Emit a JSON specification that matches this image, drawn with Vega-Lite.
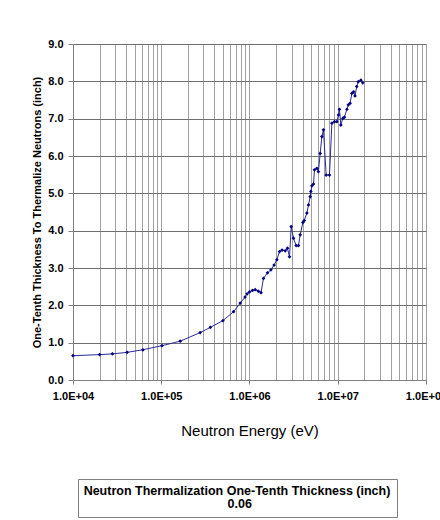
{
  "$schema": "https://vega.github.io/schema/vega-lite/v6.json",
  "width": 353,
  "height": 336,
  "autosize": "none",
  "padding": {"left": 73, "top": 44, "right": 14, "bottom": 140},
  "background": "white",
  "config": {"font": "Liberation Sans", "view": {"stroke": null}},
  "data": {"values": [
    {"energy": 10000, "thickness": 0.65},
    {"energy": 20000, "thickness": 0.68},
    {"energy": 28000, "thickness": 0.70},
    {"energy": 41000, "thickness": 0.74},
    {"energy": 62000, "thickness": 0.81},
    {"energy": 102000, "thickness": 0.92},
    {"energy": 164000, "thickness": 1.04},
    {"energy": 276000, "thickness": 1.27},
    {"energy": 360000, "thickness": 1.41},
    {"energy": 500000, "thickness": 1.59},
    {"energy": 660000, "thickness": 1.83},
    {"energy": 785000, "thickness": 2.06},
    {"energy": 890000, "thickness": 2.22},
    {"energy": 940000, "thickness": 2.31},
    {"energy": 1000000, "thickness": 2.36},
    {"energy": 1080000, "thickness": 2.40},
    {"energy": 1160000, "thickness": 2.42},
    {"energy": 1260000, "thickness": 2.38},
    {"energy": 1350000, "thickness": 2.34},
    {"energy": 1440000, "thickness": 2.72},
    {"energy": 1600000, "thickness": 2.87},
    {"energy": 1750000, "thickness": 2.95},
    {"energy": 1900000, "thickness": 3.08},
    {"energy": 2040000, "thickness": 3.22},
    {"energy": 2190000, "thickness": 3.44},
    {"energy": 2340000, "thickness": 3.48},
    {"energy": 2540000, "thickness": 3.46},
    {"energy": 2690000, "thickness": 3.53},
    {"energy": 2840000, "thickness": 3.30},
    {"energy": 2970000, "thickness": 4.11},
    {"energy": 3150000, "thickness": 3.80},
    {"energy": 3380000, "thickness": 3.60},
    {"energy": 3590000, "thickness": 3.60},
    {"energy": 3750000, "thickness": 3.89},
    {"energy": 4030000, "thickness": 4.22},
    {"energy": 4170000, "thickness": 4.27},
    {"energy": 4470000, "thickness": 4.47},
    {"energy": 4660000, "thickness": 4.69},
    {"energy": 4870000, "thickness": 4.91},
    {"energy": 4960000, "thickness": 5.05},
    {"energy": 5090000, "thickness": 5.20},
    {"energy": 5310000, "thickness": 5.25},
    {"energy": 5450000, "thickness": 5.63},
    {"energy": 5800000, "thickness": 5.67},
    {"energy": 6040000, "thickness": 5.58},
    {"energy": 6320000, "thickness": 6.07},
    {"energy": 6610000, "thickness": 6.52},
    {"energy": 6890000, "thickness": 6.70},
    {"energy": 7390000, "thickness": 5.49},
    {"energy": 8060000, "thickness": 5.49},
    {"energy": 8580000, "thickness": 6.88},
    {"energy": 9180000, "thickness": 6.92},
    {"energy": 9770000, "thickness": 6.92},
    {"energy": 10200000, "thickness": 7.10},
    {"energy": 10450000, "thickness": 7.25},
    {"energy": 10840000, "thickness": 6.83},
    {"energy": 11420000, "thickness": 7.01},
    {"energy": 11900000, "thickness": 7.04},
    {"energy": 12700000, "thickness": 7.25},
    {"energy": 13200000, "thickness": 7.37},
    {"energy": 13800000, "thickness": 7.41},
    {"energy": 14450000, "thickness": 7.68},
    {"energy": 15100000, "thickness": 7.72},
    {"energy": 15700000, "thickness": 7.61},
    {"energy": 16400000, "thickness": 7.86},
    {"energy": 17100000, "thickness": 7.99},
    {"energy": 18300000, "thickness": 8.03},
    {"energy": 19200000, "thickness": 7.96}
  ]},
  "encoding": {
    "x": {
      "field": "energy",
      "type": "quantitative",
      "scale": {"type": "log", "domain": [10000, 100000000]},
      "axis": {
        "title": "Neutron Energy (eV)",
        "values": [10000, 20000, 30000, 40000, 50000, 60000, 70000, 80000, 90000,
                   100000, 200000, 300000, 400000, 500000, 600000, 700000, 800000, 900000,
                   1000000, 2000000, 3000000, 4000000, 5000000, 6000000, 7000000, 8000000, 9000000,
                   10000000, 20000000, 30000000, 40000000, 50000000, 60000000, 70000000, 80000000, 90000000,
                   100000000],
        "labelExpr": "abs(log(datum.value)/LN10 - round(log(datum.value)/LN10)) < 0.001 ? '1.0E+0' + round(log(datum.value)/LN10) : ''",
        "labelOverlap": false,
        "labelFlush": false,
        "labelBound": false,
        "labelFont": "Liberation Sans",
        "labelFontSize": 11,
        "labelFontWeight": "bold",
        "labelColor": "#000000",
        "labelPadding": 6,
        "grid": true,
        "gridColor": "#a0a0a0",
        "gridWidth": 1,
        "tickSize": 4,
        "tickColor": {"condition": {"test": "abs(log(datum.value)/LN10 - round(log(datum.value)/LN10)) < 0.001", "value": "#808080"}, "value": "transparent"},
        "domainColor": "#808080",
        "titleFont": "Liberation Sans",
        "titleFontSize": 15,
        "titleFontWeight": "normal",
        "titleColor": "#000000",
        "titlePadding": 22
      }
    },
    "y": {
      "field": "thickness",
      "type": "quantitative",
      "scale": {"domain": [0, 9]},
      "axis": {
        "title": "One-Tenth Thickness To Thermalize Neutrons (inch)",
        "values": [0, 1, 2, 3, 4, 5, 6, 7, 8, 9],
        "format": ".1f",
        "labelFlush": false,
        "labelFont": "Liberation Sans",
        "labelFontSize": 11,
        "labelFontWeight": "bold",
        "labelColor": "#000000",
        "labelPadding": 5,
        "grid": true,
        "gridColor": "#707070",
        "tickSize": 5,
        "tickColor": "#808080",
        "domainColor": "#808080",
        "titleFont": "Liberation Sans",
        "titleFontSize": 11,
        "titleFontWeight": "bold",
        "titleColor": "#000000",
        "titlePadding": 5
      }
    }
  },
  "layer": [
    {"mark": {"type": "line", "color": "#2a2a9a", "strokeWidth": 1}},
    {
      "mark": {"type": "point", "shape": "diamond", "filled": true, "size": 14, "opacity": 1},
      "encoding": {
        "color": {
          "datum": "0.06",
          "scale": {"range": ["#000080"]},
          "legend": {
            "title": "Neutron Thermalization One-Tenth Thickness (inch)",
            "orient": "none",
            "legendX": 5,
            "legendY": 435,
            "titleFont": "Liberation Sans",
            "titleFontSize": 12.5,
            "titleFontWeight": "bold",
            "titleColor": "#000000",
            "titleAnchor": "middle",
            "titleAlign": "center",
            "titleLimit": 400,
            "titlePadding": 0,
            "labelFont": "Liberation Sans",
            "labelFontSize": 12.5,
            "labelFontWeight": "bold",
            "labelColor": "#000000",
            "labelOffset": -8,
            "symbolSize": 0,
            "symbolOpacity": 0,
            "symbolStrokeWidth": 0,
            "strokeColor": "#808080",
            "fillColor": "white",
            "padding": 6
          }
        }
      }
    }
  ]
}
